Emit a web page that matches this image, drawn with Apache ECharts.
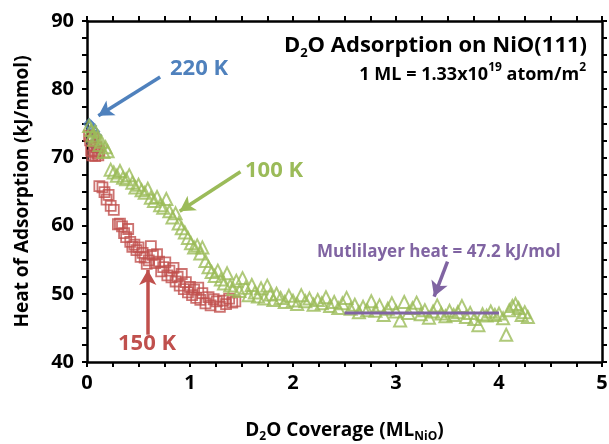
<!DOCTYPE html>
<html>
<head>
<meta charset="utf-8">
<script src="https://cdn.jsdelivr.net/npm/echarts@6/dist/echarts.min.js"></script>
<style>
  html, body { margin: 0; padding: 0; background: #fff; }
  #chart { width: 609px; height: 444px; }
</style>
</head>
<body>
<div id="chart"></div>
<script>
// D2O heat of adsorption on NiO(111) versus coverage, three adsorption temperatures.

// 220 K (open diamonds)
const cov220  = [0.02, 0.04, 0.05, 0.07, 0.09, 0.06, 0.10];
const heat220 = [74.9, 74.6, 74.1, 73.8, 73.2, 72.0, 71.3];

// 150 K (open squares)
const cov150 = [0.02, 0.03, 0.04, 0.05, 0.06, 0.07, 0.08, 0.09, 0.10, 0.11, 0.12,
  0.12, 0.15, 0.17, 0.19, 0.21, 0.23, 0.26,
  0.30, 0.32, 0.34, 0.36, 0.38, 0.40,
  0.42, 0.44, 0.46, 0.48, 0.50, 0.52, 0.54, 0.56, 0.58, 0.60, 0.62, 0.64, 0.66, 0.68, 0.70,
  0.72, 0.74, 0.76, 0.78, 0.80, 0.82, 0.84, 0.86, 0.88, 0.90, 0.92, 0.94, 0.96, 0.98,
  1.00, 1.02, 1.04, 1.06, 1.08, 1.10, 1.12, 1.15, 1.18, 1.20, 1.23, 1.26, 1.29, 1.32,
  1.35, 1.38, 1.41, 1.44];
const heat150 = [73.2, 72.5, 71.0, 70.3, 72.8, 70.8, 70.2, 71.5, 70.6, 70.3, 70.9,
  65.8, 65.6, 64.9, 63.8, 64.5, 62.9, 62.3,
  60.2, 60.3, 59.9, 58.9, 58.3, 59.5,
  57.6, 56.9, 57.2, 56.4, 56.8, 55.4, 56.0, 55.3, 54.4, 54.9, 57.0, 55.7, 54.5, 55.8, 54.7,
  53.3, 53.9, 54.6, 52.7, 53.4, 52.4, 53.8, 51.8, 52.5, 51.2, 52.9, 50.7, 51.7, 50.2,
  51.0, 49.8, 50.6, 49.4, 50.9, 49.1, 50.1, 48.6, 49.5, 48.3, 49.2, 48.9, 48.1, 49.0,
  48.5, 49.3, 48.7, 48.9];

// 100 K (open triangles)
const cov100 = [0.02, 0.04, 0.05, 0.07, 0.08, 0.10, 0.12, 0.14, 0.16, 0.18, 0.20,
  0.23, 0.26, 0.29, 0.32, 0.35, 0.38, 0.41, 0.44, 0.47, 0.50, 0.53, 0.56, 0.59, 0.62,
  0.65, 0.68, 0.71, 0.74, 0.77, 0.80, 0.83, 0.86, 0.89, 0.92, 0.95, 0.98, 1.01, 1.04,
  1.07, 1.10, 1.12, 1.15, 1.18, 1.21, 1.24, 1.27, 1.30, 1.33, 1.36, 1.39, 1.42, 1.45,
  1.48, 1.51, 1.54, 1.57, 1.60, 1.63, 1.66, 1.69, 1.72, 1.75, 1.78, 1.81, 1.84, 1.88,
  1.92, 1.96, 2.00, 2.04, 2.08, 2.12, 2.16, 2.20, 2.24, 2.28, 2.32, 2.36, 2.40, 2.44,
  2.48, 2.52, 2.56, 2.60, 2.64, 2.68, 2.72, 2.76, 2.80, 2.84, 2.88, 2.92, 2.96, 3.00,
  3.04, 3.08, 3.12, 3.16, 3.20, 3.24, 3.28, 3.32, 3.36, 3.40, 3.44, 3.48, 3.52, 3.56,
  3.60, 3.64, 3.68, 3.72, 3.76, 3.80, 3.84, 3.88, 3.92, 3.96, 4.00, 4.04, 4.07, 4.10,
  4.13, 4.16, 4.19, 4.22, 4.25, 4.28];
const heat100 = [74.6, 74.0, 73.2, 72.6, 73.8, 72.9, 71.8, 72.3, 70.8, 71.5, 70.9,
  68.2, 67.8, 67.3, 68.0, 67.0, 66.8, 67.4, 66.3, 65.6, 66.0, 65.2, 64.8, 65.4, 64.1,
  63.6, 64.2, 63.0, 62.6, 63.9, 62.1, 61.2, 61.8, 60.3, 59.6, 59.0, 58.2, 57.4, 56.8,
  57.1, 55.9, 56.8, 54.8, 53.9, 53.2, 52.6, 53.4, 52.1, 51.5, 53.0, 51.2, 50.7, 51.9,
  50.4, 52.3, 50.9, 49.8, 51.3, 50.2, 49.6, 50.8, 49.3, 51.2, 49.9, 49.1, 50.0, 49.4,
  48.8, 49.7, 49.0, 48.5, 49.8, 48.9, 49.3, 48.4, 49.1, 48.6, 49.5, 48.2, 48.8, 47.9,
  48.6, 49.4, 47.8, 48.4, 47.3, 48.1, 47.6, 48.9, 47.5, 48.3, 46.9, 47.8, 48.6, 47.4,
  46.1, 48.8, 47.2, 47.9, 48.7, 47.0, 47.6, 46.5, 47.4, 48.3, 47.1, 46.7, 47.5, 46.9,
  47.3, 48.2, 46.6, 47.2, 46.3, 45.4, 47.0, 46.8, 47.4, 46.9, 47.1, 46.4, 44.0, 47.6,
  48.2, 48.5, 47.9, 46.9, 47.3, 46.6];

// Multilayer heat of adsorption and the coverage span it is drawn over
const multilayerHeat = 47.2;
const multilayerSpan = [2.5, 4.0];

// Annotation arrows, in data coordinates: [from, to]
const arrow220 = [[0.71, 81.8], [0.11, 76.1]];
const arrow100 = [[1.49, 67.9], [0.90, 62.1]];
const arrow150 = [[0.59, 44.0], [0.59, 53.5]];
const arrowMulti = [[3.50, 54.7], [3.37, 49.6]];

const BLUE = '#4F81BD', GREEN = '#9BBB59', RED = '#C0504D', PURPLE = '#8064A2';
const FONT = 'Open Sans';

const zip = (xs, ys) => xs.map((x, i) => [x, ys[i]]);

function arrowLine(pts, color) {
  return {
    silent: true,
    symbol: ['none', 'arrow'],
    symbolSize: [13, 15],
    label: { show: false },
    emphasis: { disabled: true },
    lineStyle: { color: color, width: 3.5, type: 'solid' },
    data: [[{ coord: pts[0] }, { coord: pts[1] }]]
  };
}

const frameLine = { show: true, onZero: false, lineStyle: { color: '#000', width: 2.5 } };
const tickStyle = { show: true, inside: false, length: 5, lineStyle: { color: '#000', width: 2 } };
const minorStyle = { show: true, splitNumber: 4, length: 5, lineStyle: { color: '#000', width: 2 } };
const tickLabel = { fontFamily: FONT, fontWeight: 'bold', fontSize: 20, color: '#000' };

// rich-text pieces for subscripts (pushed down) and superscripts (pushed up)
const subStyle = (size) => ({ fontFamily: FONT, fontWeight: 'bold', fontSize: size, color: '#000', verticalAlign: 'bottom', padding: [Math.round(size * 1.1), 0, 0, 0] });
const supStyle = (size) => ({ fontFamily: FONT, fontWeight: 'bold', fontSize: size, color: '#000', verticalAlign: 'top', padding: [0, 0, Math.round(size * 1.1), 0] });

const chart = echarts.init(document.getElementById('chart'));
chart.setOption({
  animation: false,
  backgroundColor: '#fff',
  grid: { left: 87, right: 7, top: 21, bottom: 82, containLabel: false, outerBoundsMode: 'none' },
  xAxis: [
    {
      type: 'value', min: 0, max: 5, interval: 1, position: 'bottom',
      axisLine: frameLine, axisTick: tickStyle, minorTick: minorStyle,
      splitLine: { show: false },
      axisLabel: Object.assign({ margin: 11 }, tickLabel),
      name: '{a|D}{s|2}{a|O Coverage (ML}{s|NiO}{a|)}',
      nameLocation: 'middle', nameGap: 56,
      nameTextStyle: {
        rich: {
          a: { fontFamily: FONT, fontWeight: 'bold', fontSize: 19, color: '#000' },
          s: subStyle(12)
        }
      }
    },
    {
      type: 'value', min: 0, max: 5, interval: 1, position: 'top',
      axisLine: frameLine, axisTick: tickStyle, minorTick: minorStyle,
      splitLine: { show: false }, axisLabel: { show: false }
    }
  ],
  yAxis: [
    {
      type: 'value', min: 40, max: 90, interval: 10, position: 'left',
      axisLine: frameLine, axisTick: tickStyle, minorTick: minorStyle,
      splitLine: { show: false },
      axisLabel: Object.assign({ margin: 13 }, tickLabel),
      name: 'Heat of Adsorption (kJ/nmol)',
      nameLocation: 'middle', nameGap: 55,
      nameTextStyle: { fontFamily: FONT, fontWeight: 'bold', fontSize: 19, color: '#000' }
    },
    {
      type: 'value', min: 40, max: 90, interval: 10, position: 'right',
      axisLine: frameLine, axisTick: tickStyle, minorTick: minorStyle,
      splitLine: { show: false }, axisLabel: { show: false }
    }
  ],
  series: [
    {
      name: '220 K', type: 'scatter', symbol: 'diamond', symbolSize: 10,
      itemStyle: { color: 'rgba(0,0,0,0)', borderColor: BLUE, borderWidth: 1.8 },
      data: zip(cov220, heat220),
      markLine: arrowLine(arrow220, BLUE)
    },
    {
      name: '150 K', type: 'scatter', symbol: 'rect', symbolSize: 10,
      itemStyle: { color: 'rgba(0,0,0,0)', borderColor: RED, borderWidth: 1.8 },
      data: zip(cov150, heat150),
      markLine: arrowLine(arrow150, RED)
    },
    {
      name: '100 K', type: 'scatter', symbol: 'triangle', symbolSize: 12,
      itemStyle: { color: 'rgba(0,0,0,0)', borderColor: GREEN, borderWidth: 2 },
      data: zip(cov100, heat100),
      markLine: arrowLine(arrow100, GREEN)
    },
    {
      name: 'Multilayer', type: 'line', symbol: 'none', silent: true,
      lineStyle: { color: PURPLE, width: 3 },
      data: multilayerSpan.map(x => [x, multilayerHeat]),
      markLine: arrowLine(arrowMulti, PURPLE)
    }
  ],
  graphic: [
    {
      type: 'text', right: 22, top: 35,
      style: {
        text: '{a|D}{s|2}{a|O Adsorption on NiO(111)}',
        rich: {
          a: { fontFamily: FONT, fontWeight: 'bold', fontSize: 22, color: '#000' },
          s: subStyle(13)
        }
      }
    },
    {
      type: 'text', right: 23, top: 62,
      style: {
        text: '{a|1 ML = 1.33x10}{p|19}{a| atom/m}{p|2}',
        rich: {
          a: { fontFamily: FONT, fontWeight: 'bold', fontSize: 18, color: '#000' },
          p: supStyle(12)
        }
      }
    },
    {
      type: 'text', left: 170, top: 58,
      style: { text: '220 K', fontFamily: FONT, fontWeight: 'bold', fontSize: 22, fill: BLUE }
    },
    {
      type: 'text', left: 245, top: 160,
      style: { text: '100 K', fontFamily: FONT, fontWeight: 'bold', fontSize: 22, fill: GREEN }
    },
    {
      type: 'text', left: 118, top: 333,
      style: { text: '150 K', fontFamily: FONT, fontWeight: 'bold', fontSize: 22, fill: RED }
    },
    {
      type: 'text', left: 317, top: 244,
      style: { text: 'Mutlilayer heat = 47.2 kJ/mol', fontFamily: FONT, fontWeight: 'bold', fontSize: 17, fill: PURPLE }
    }
  ]
});
</script>
</body>
</html>
